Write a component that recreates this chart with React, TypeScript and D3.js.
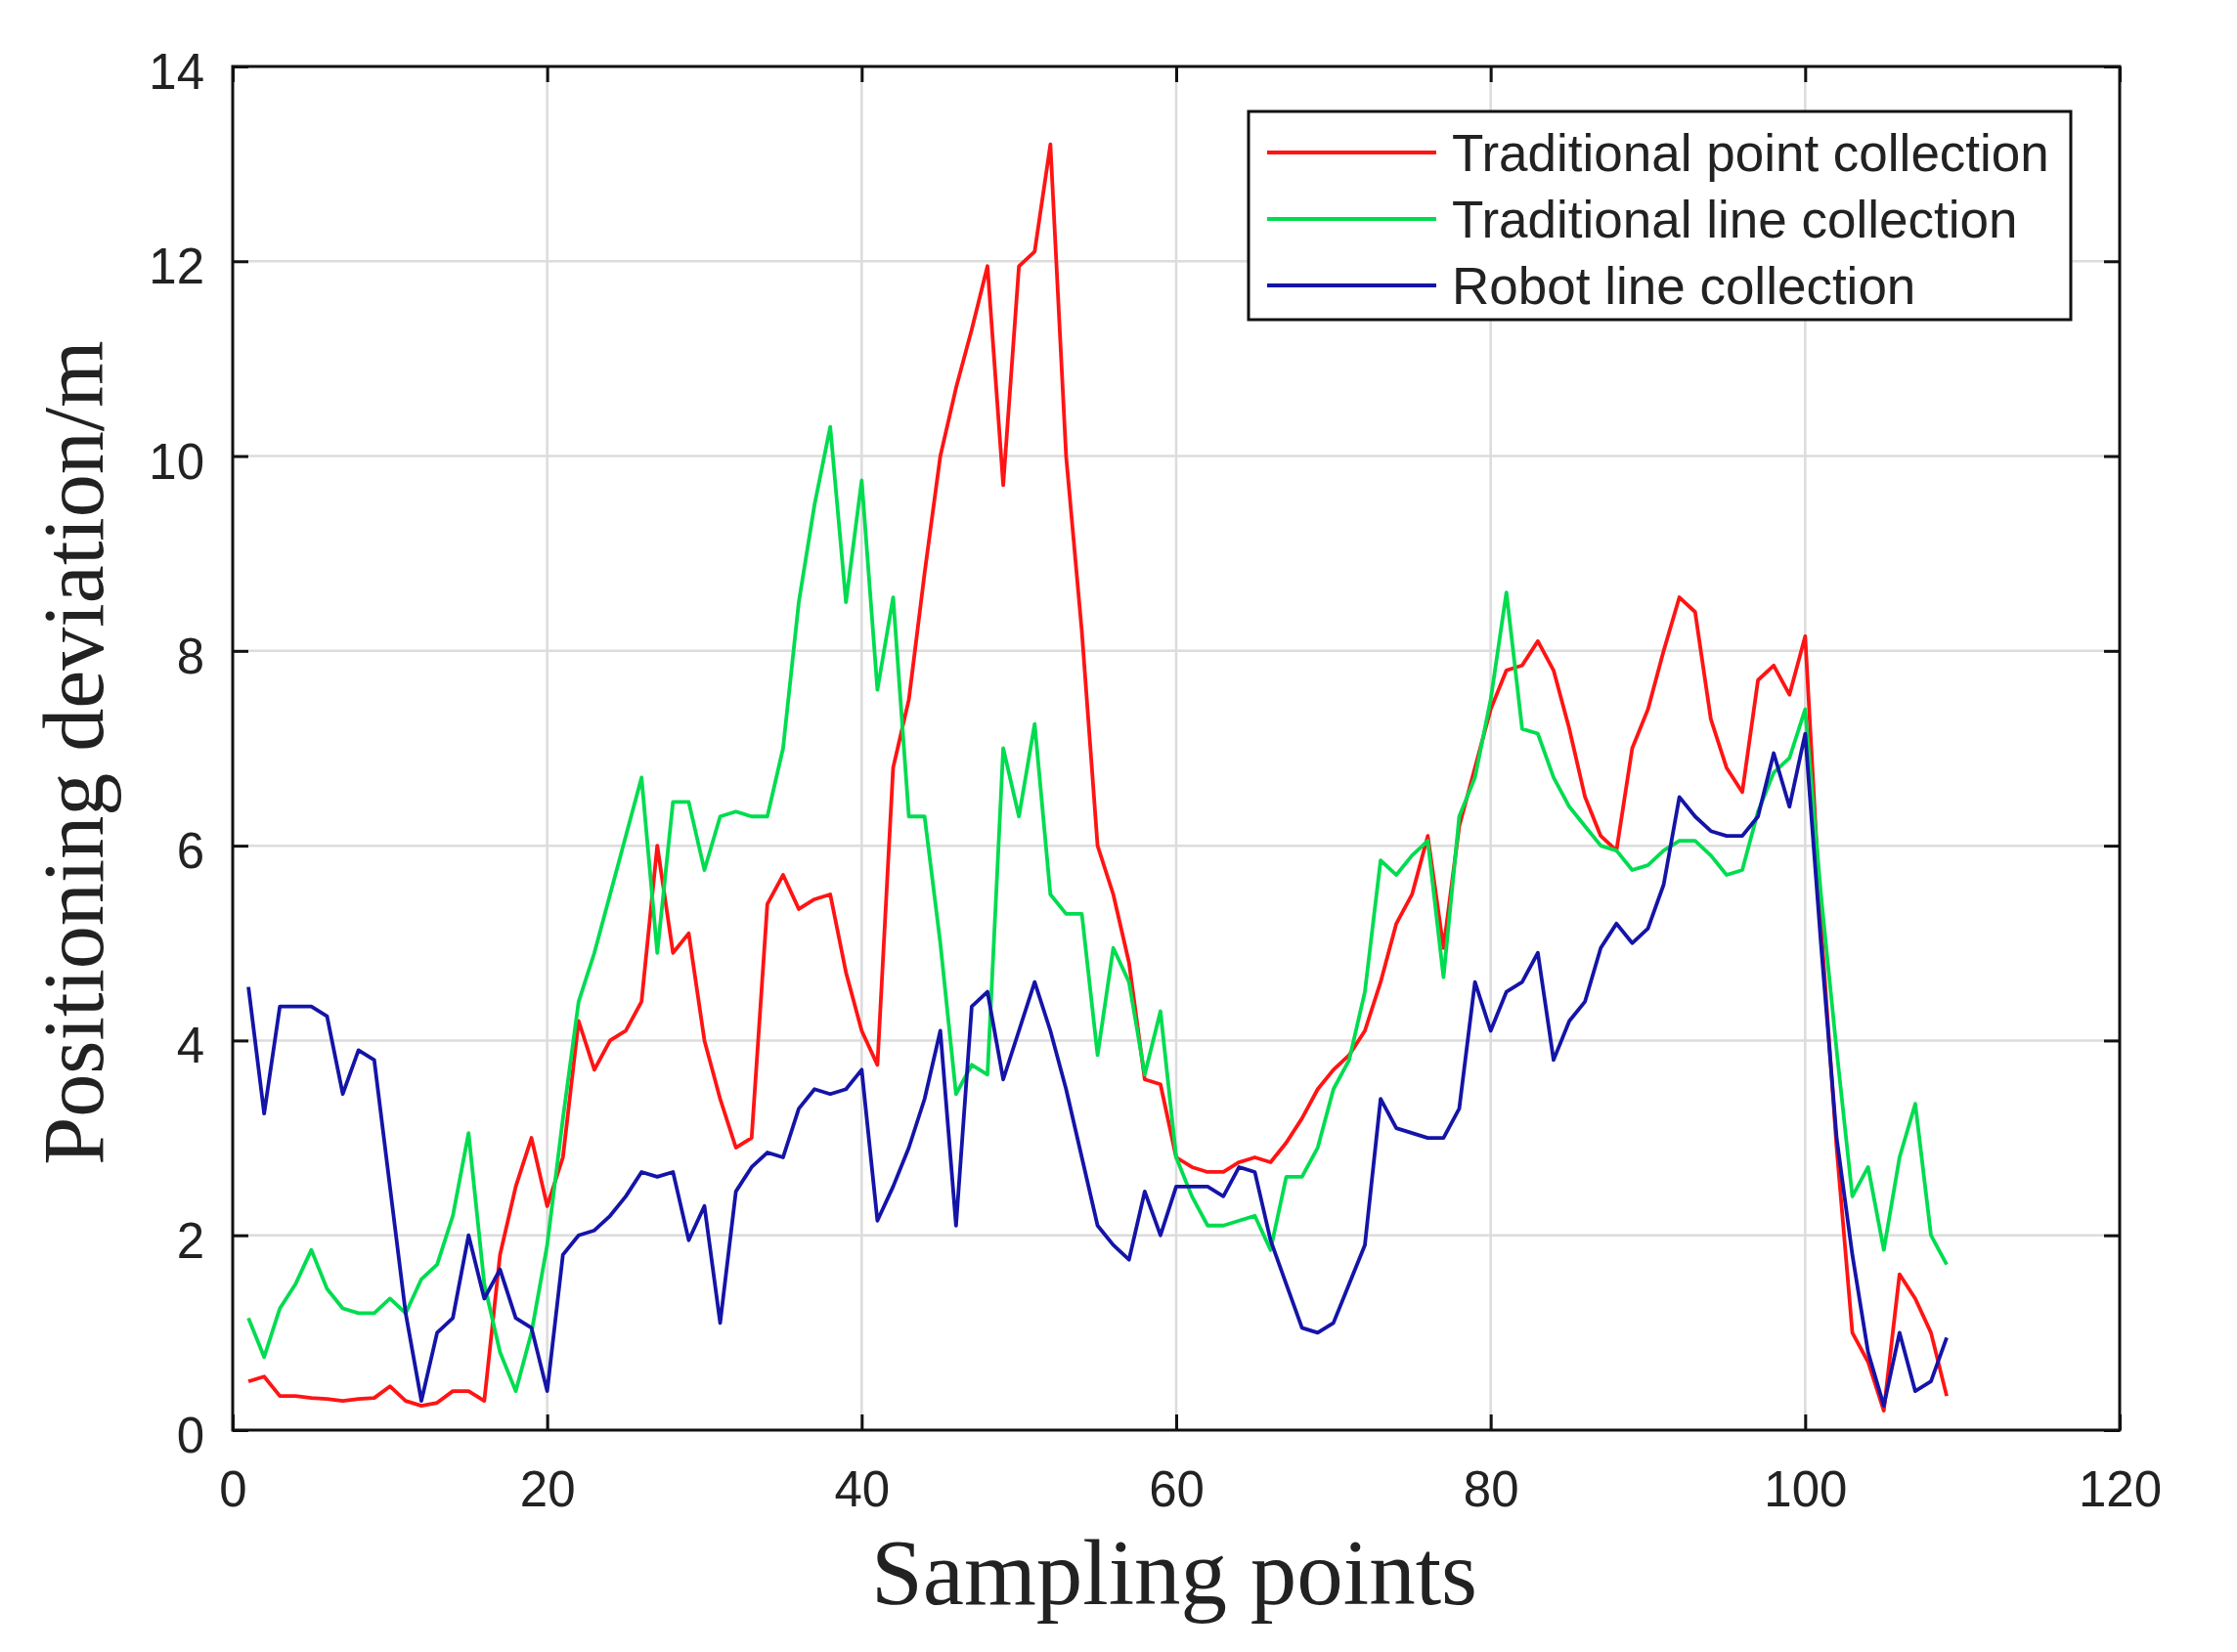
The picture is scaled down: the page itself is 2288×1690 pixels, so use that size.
import { useEffect, useRef } from 'react'
import * as d3 from 'd3'

const sampleIndex = d3.range(1, 110)

const pointCollection = [
  0.5, 0.55, 0.35, 0.35, 0.33, 0.32, 0.3, 0.32, 0.33, 0.45,
  0.3, 0.25, 0.28, 0.4, 0.4, 0.3, 1.8, 2.5, 3.0, 2.3,
  2.8, 4.2, 3.7, 4.0, 4.1, 4.4, 6.0, 4.9, 5.1, 4.0,
  3.4, 2.9, 3.0, 5.4, 5.7, 5.35, 5.45, 5.5, 4.7, 4.1,
  3.75, 6.8, 7.5, 8.8, 10.0, 10.7, 11.3, 11.95, 9.7, 11.95,
  12.1, 13.2, 10.0, 8.2, 6.0, 5.5, 4.8, 3.6, 3.55, 2.8,
  2.7, 2.65, 2.65, 2.75, 2.8, 2.75, 2.95, 3.2, 3.5, 3.7,
  3.85, 4.1, 4.6, 5.2, 5.5, 6.1, 4.95, 6.2, 6.8, 7.4,
  7.8, 7.85, 8.1, 7.8, 7.2, 6.5, 6.1, 5.95, 7.0, 7.4,
  8.0, 8.55, 8.4, 7.3, 6.8, 6.55, 7.7, 7.85, 7.55, 8.15,
  5.2, 2.9, 1.0, 0.7, 0.2, 1.6, 1.35, 1.0, 0.35,
]

const lineCollection = [
  1.15, 0.75, 1.25, 1.5, 1.85, 1.45, 1.25, 1.2, 1.2, 1.35,
  1.2, 1.55, 1.7, 2.2, 3.05, 1.5, 0.8, 0.4, 1.0, 1.9,
  3.2, 4.4, 4.9, 5.5, 6.1, 6.7, 4.9, 6.45, 6.45, 5.75,
  6.3, 6.35, 6.3, 6.3, 7.0, 8.5, 9.5, 10.3, 8.5, 9.75,
  7.6, 8.55, 6.3, 6.3, 5.0, 3.45, 3.75, 3.65, 7.0, 6.3,
  7.25, 5.5, 5.3, 5.3, 3.85, 4.95, 4.6, 3.65, 4.3, 2.8,
  2.4, 2.1, 2.1, 2.15, 2.2, 1.85, 2.6, 2.6, 2.9, 3.5,
  3.8, 4.5, 5.85, 5.7, 5.9, 6.05, 4.65, 6.3, 6.7, 7.5,
  8.6, 7.2, 7.15, 6.7, 6.4, 6.2, 6.0, 5.95, 5.75, 5.8,
  5.95, 6.05, 6.05, 5.9, 5.7, 5.75, 6.35, 6.75, 6.9, 7.4,
  5.5, 3.9, 2.4, 2.7, 1.85, 2.8, 3.35, 2.0, 1.7,
]

const robotCollection = [
  4.55, 3.25, 4.35, 4.35, 4.35, 4.25, 3.45, 3.9, 3.8, 2.5,
  1.2, 0.3, 1.0, 1.15, 2.0, 1.35, 1.65, 1.15, 1.05, 0.4,
  1.8, 2.0, 2.05, 2.2, 2.4, 2.65, 2.6, 2.65, 1.95, 2.3,
  1.1, 2.45, 2.7, 2.85, 2.8, 3.3, 3.5, 3.45, 3.5, 3.7,
  2.15, 2.5, 2.9, 3.4, 4.1, 2.1, 4.35, 4.5, 3.6, 4.1,
  4.6, 4.1, 3.5, 2.8, 2.1, 1.9, 1.75, 2.45, 2.0, 2.5,
  2.5, 2.5, 2.4, 2.7, 2.65, 1.95, 1.5, 1.05, 1.0, 1.1,
  1.5, 1.9, 3.4, 3.1, 3.05, 3.0, 3.0, 3.3, 4.6, 4.1,
  4.5, 4.6, 4.9, 3.8, 4.2, 4.4, 4.95, 5.2, 5.0, 5.15,
  5.6, 6.5, 6.3, 6.15, 6.1, 6.1, 6.3, 6.95, 6.4, 7.15,
  5.0, 3.0, 1.8, 0.8, 0.25, 1.0, 0.4, 0.5, 0.95,
]

const seriesNames = [
  'Traditional point collection',
  'Traditional line collection',
  'Robot line collection',
]
const seriesColors = ['#ff1414', '#00dc50', '#1414a8']
const xTicks = [0, 20, 40, 60, 80, 100, 120]
const yTicks = [0, 2, 4, 6, 8, 10, 12, 14]

const App = () => {
  const svgRef = useRef<SVGSVGElement | null>(null)

  useEffect(() => {
    if (!svgRef.current) return
    const svg = d3.select(svgRef.current)
    svg.selectAll('*').remove()

    const width = 2288
    const height = 1690
    const margin = { top: 68, right: 120, bottom: 227, left: 238 }
    const w = width - margin.left - margin.right
    const h = height - margin.top - margin.bottom

    svg.attr('width', width).attr('height', height)
    svg.append('rect').attr('width', width).attr('height', height).attr('fill', 'white')

    const g = svg.append('g').attr('transform', `translate(${margin.left},${margin.top})`)

    const x = d3.scaleLinear().domain([0, 120]).range([0, w])
    const y = d3.scaleLinear().domain([0, 14]).range([h, 0])

    // grid
    g.append('g')
      .selectAll('line')
      .data(xTicks.slice(1, -1))
      .join('line')
      .attr('x1', (d) => x(d))
      .attr('x2', (d) => x(d))
      .attr('y1', 0)
      .attr('y2', h)
      .attr('stroke', '#dcdcdc')
      .attr('stroke-width', 2.5)
    g.append('g')
      .selectAll('line')
      .data(yTicks.slice(1, -1))
      .join('line')
      .attr('x1', 0)
      .attr('x2', w)
      .attr('y1', (d) => y(d))
      .attr('y2', (d) => y(d))
      .attr('stroke', '#dcdcdc')
      .attr('stroke-width', 2.5)

    // lines
    const allSeries = [pointCollection, lineCollection, robotCollection]
    const line = d3
      .line<number>()
      .x((_, i) => x(sampleIndex[i]))
      .y((d) => y(d))
    allSeries.forEach((s, k) => {
      g.append('path')
        .datum(s)
        .attr('fill', 'none')
        .attr('stroke', seriesColors[k])
        .attr('stroke-width', 3.8)
        .attr('stroke-linejoin', 'round')
        .attr('d', line)
    })

    // axes (inward ticks, box)
    const tickLen = 16
    const xAxisBottom = d3.axisBottom(x).tickValues(xTicks).tickSize(-tickLen).tickPadding(42).tickFormat(d3.format('d'))
    const xAxisTop = d3.axisTop(x).tickValues(xTicks).tickSize(-tickLen).tickFormat(() => '')
    const yAxisLeft = d3.axisLeft(y).tickValues(yTicks).tickSize(-tickLen).tickPadding(29).tickFormat(d3.format('d'))
    const yAxisRight = d3.axisRight(y).tickValues(yTicks).tickSize(-tickLen).tickFormat(() => '')

    const styleAxis = (sel: d3.Selection<SVGGElement, unknown, null, undefined>) => {
      sel.select('.domain').attr('stroke', '#111').attr('stroke-width', 3)
      sel.selectAll('.tick line').attr('stroke', '#111').attr('stroke-width', 3)
      sel.selectAll('.tick text')
        .attr('fill', '#222')
        .attr('font-family', '"Liberation Sans", Arial, sans-serif')
        .attr('font-size', 51)
    }

    g.append('g').attr('transform', `translate(0,${h})`).call(xAxisBottom).call(styleAxis)
    g.append('g').call(xAxisTop).call(styleAxis)
    g.append('g').call(yAxisLeft).call(styleAxis).selectAll('.tick text').attr('dy', '0.44em')
    g.append('g').attr('transform', `translate(${w},0)`).call(yAxisRight).call(styleAxis)
    g.selectAll('.domain').attr('d', null)
    g.append('rect')
      .attr('width', w)
      .attr('height', h)
      .attr('fill', 'none')
      .attr('stroke', '#111')
      .attr('stroke-width', 3)

    // legend
    const lg = svg.append('g').attr('transform', 'translate(1277,114)')
    lg.append('rect')
      .attr('width', 841)
      .attr('height', 213)
      .attr('fill', 'white')
      .attr('stroke', '#111')
      .attr('stroke-width', 3)
    seriesNames.forEach((name, k) => {
      const ly = 42 + k * 68
      lg.append('line')
        .attr('x1', 19)
        .attr('x2', 192)
        .attr('y1', ly)
        .attr('y2', ly)
        .attr('stroke', seriesColors[k])
        .attr('stroke-width', 3.8)
      lg.append('text')
        .attr('x', 208)
        .attr('y', ly)
        .attr('dy', '0.36em')
        .attr('font-family', '"Liberation Sans", Arial, sans-serif')
        .attr('font-size', 53)
        .attr('fill', '#222')
        .text(name)
    })

    // axis titles
    svg.append('text')
      .attr('x', 1201)
      .attr('y', 1641)
      .attr('text-anchor', 'middle')
      .attr('font-family', '"Liberation Serif", "Times New Roman", serif')
      .attr('font-size', 95)
      .attr('fill', '#222')
      .text('Sampling points')
    svg.append('text')
      .attr('transform', `translate(105,770) rotate(-90)`)
      .attr('text-anchor', 'middle')
      .attr('font-family', '"Liberation Serif", "Times New Roman", serif')
      .attr('font-size', 88)
      .attr('fill', '#222')
      .text('Positioning deviation/m')
  }, [])

  return (
    <>
      <style>{'body{margin:0}'}</style>
      <svg ref={svgRef}></svg>
    </>
  )
}

export default App
